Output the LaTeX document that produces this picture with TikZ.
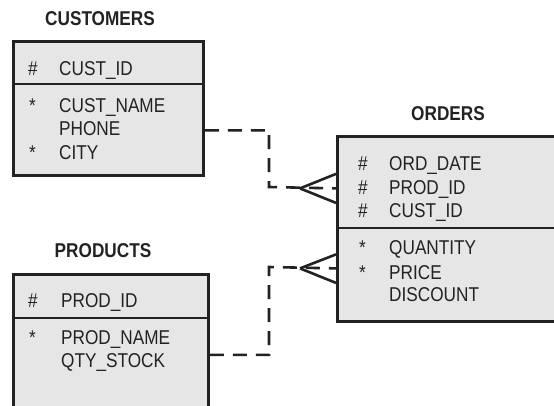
\documentclass[tikz,border=0pt]{standalone}
\usepackage{fontspec}
\setmainfont{Liberation Sans}[FakeStretch=0.86]
\begin{document}
\begin{tikzpicture}[x=1pt,y=-1pt,
  entbox/.style={draw=ink,fill=boxgray,line width=2.8pt,inner sep=0pt,anchor=north west},
  divider/.style={draw=ink,line width=2.8pt},
  title/.style={font=\fontsize{20}{24}\selectfont\bfseries,text=ink,inner sep=0pt,text height=14.3pt,text depth=0pt},
  field/.style={font=\fontsize{20}{24}\selectfont,text=ink,inner sep=0pt,anchor=west,text height=14.3pt,text depth=0pt},
  rel/.style={draw=ink,line width=2.6pt,dash pattern=on 14pt off 9pt},
  foot/.style={draw=ink,line width=2.6pt}]
\definecolor{ink}{HTML}{222222}
\definecolor{boxgray}{HTML}{E6E6E6}
\useasboundingbox (0,0) rectangle (554,405);
\clip (0,0) rectangle (554,405);

% CUSTOMERS
\node[title] (custT) at (100,18) {CUSTOMERS};
\node[entbox,minimum width=190pt,minimum height=134pt] (cust) at (12,40) {};
\draw[divider] (12,84) -- (202,84);
\node[field] (c1k) at (28,68) {\#};
\node[field] (c1) at (59,68) {CUST\_ID};
\node[field] (c2k) at (29,105) {*};
\node[field] (c2) at (59,105) {CUST\_NAME};
\node[field] (c3) at (59,128) {PHONE};
\node[field] (c4k) at (29,152) {*};
\node[field] (c4) at (59,152) {CITY};

% PRODUCTS (runs past the lower edge)
\node[title] (prodT) at (103,250) {PRODUCTS};
\node[entbox,minimum width=195pt,minimum height=150pt] (prod) at (12,273) {};
\draw[divider] (12,318) -- (207,318);
\node[field] (p1k) at (28,300) {\#};
\node[field] (p1) at (61,300) {PROD\_ID};
\node[field] (p2k) at (29,337) {*};
\node[field] (p2) at (61,337) {PROD\_NAME};
\node[field] (p3) at (61,360) {QTY\_STOCK};

% ORDERS (runs past the right edge)
\node[title] (ordT) at (448,113) {ORDERS};
\node[entbox,minimum width=230pt,minimum height=185pt] (ord) at (336,135) {};
\draw[divider] (336,228) -- (566,228);
\node[field] (o1k) at (358,163) {\#};
\node[field] (o1) at (389,163) {ORD\_DATE};
\node[field] (o2k) at (358,187) {\#};
\node[field] (o2) at (389,187) {PROD\_ID};
\node[field] (o3k) at (358,210) {\#};
\node[field] (o3) at (389,210) {CUST\_ID};
\node[field] (o4k) at (359,247) {*};
\node[field] (o4) at (389,247) {QUANTITY};
\node[field] (o5k) at (359,272) {*};
\node[field] (o5) at (389,272) {PRICE};
\node[field] (o6) at (389,294) {DISCOUNT};

% relationship ends on the ORDERS side
\coordinate (endA) at ([yshift=40.5pt]ord.west);
\coordinate (endB) at ([yshift=-39.5pt]ord.west);
\coordinate (tipA) at ([xshift=-36pt]endA);
\coordinate (tipB) at ([xshift=-36pt]endB);

% CUSTOMERS -- ORDERS
\draw[rel] ([yshift=-22pt]cust.east) -| (269,187) -- (endA);
\draw[foot] (tipA) -- ([yshift=14.5pt]endA);
\draw[foot] (tipA) -- ([yshift=-14.5pt]endA);

% PRODUCTS -- ORDERS
\draw[rel] ([yshift=-5.5pt]prod.east) -| (269,267) -- (endB);
\draw[foot] (tipB) -- ([yshift=14pt]endB);
\draw[foot] (tipB) -- ([yshift=-14.5pt]endB);
\end{tikzpicture}
\end{document}
